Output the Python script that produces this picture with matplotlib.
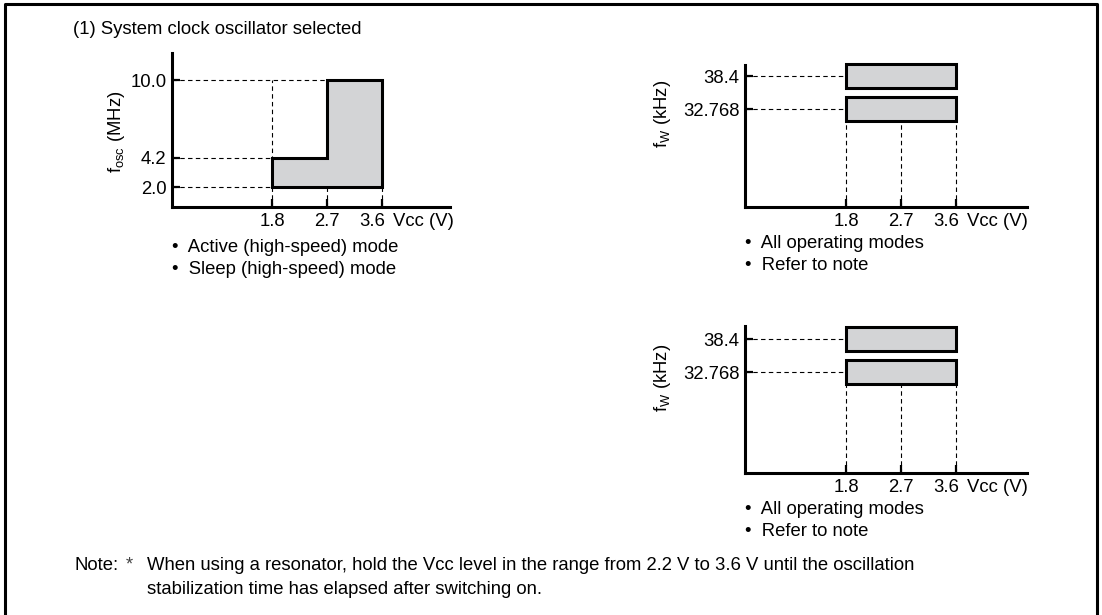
import numpy as np
import matplotlib
matplotlib.use('Agg')
import matplotlib.pyplot as plt
from matplotlib.lines import Line2D
from matplotlib.transforms import ScaledTranslation

plt.rcParams['font.family'] = ['Liberation Sans', 'DejaVu Sans']
plt.rcParams['font.size'] = 13.3
plt.rcParams['mathtext.fontset'] = 'custom'
plt.rcParams['mathtext.rm'] = 'Liberation Sans'

#%% data
vcc_edges = [1.8, 2.7, 3.6]          # operating voltage breakpoints (V)
vcc_labels = ['1.8', '2.7', '3.6']
fosc_min = 2.0                       # MHz
fosc_max = [4.2, 10.0]               # max fosc for 1.8-2.7 V and 2.7-3.6 V
fosc_ticks = [2.0, 4.2, 10.0]
fosc_labels = ['2.0', '4.2', '10.0']
fw_values = [38.4, 32.768]           # kHz
fw_labels = ['38.4', '32.768']

title = '(1) System clock oscillator selected'
sys_notes = ['Active (high-speed) mode', 'Sleep (high-speed) mode']
sub_notes = ['All operating modes', 'Refer to note']
note_lines = ['When using a resonator, hold the Vcc level in the range from 2.2 V to 3.6 V until the oscillation',
              'stabilization time has elapsed after switching on.']

#%% layout helpers (pixel based)
W, H = 1102, 615
fig = plt.figure(figsize=(W / 100, H / 100), dpi=100)
fig.patch.set_facecolor('white')

GRAY = '#d3d4d6'
LW = 2.2
DASH = dict(color='k', lw=0.8, ls=(0, (4, 3)))


def px_axes(l, t, r, b):
    return fig.add_axes([l / W, (H - b) / H, (r - l) / W, (b - t) / H])


def style(ax):
    for s in ['top', 'right']:
        ax.spines[s].set_visible(False)
    for s in ['left', 'bottom']:
        ax.spines[s].set_linewidth(LW)
    ax.tick_params(direction='in', length=5.5, width=1.6, pad=4, labelsize=13.3)
    ax.set_xticks(vcc_edges, vcc_labels)
    # last voltage label sits left of its tick, "Vcc (V)" follows it
    last = ax.get_xticklabels()[-1]
    last.set_transform(last.get_transform() + ScaledTranslation(-0.10, 0, fig.dpi_scale_trans))
    ax.patch.set_alpha(0)
    ax.annotate('Vcc (V)', xy=(vcc_edges[-1], 0), xycoords=('data', 'axes fraction'),
                xytext=(8, -4), textcoords='offset points', ha='left', va='top')


def bullets(ax, items, offs):
    for s, dy in zip(items, offs):
        ax.annotate('\u2022  ' + s, xy=(0, 0), xycoords='axes fraction',
                    xytext=(0, -dy), textcoords='offset pixels', ha='left', va='center')


#%% chart 1 : fosc vs Vcc
ax1 = px_axes(172, 53, 450, 207)
style(ax1)
ax1.set_xlim(0.164, 4.713)
ax1.set_ylim(0.505, 12.02)
ax1.set_yticks(fosc_ticks, fosc_labels)

xs = [vcc_edges[0], vcc_edges[2], vcc_edges[2], vcc_edges[1], vcc_edges[1], vcc_edges[0]]
ys = [fosc_min, fosc_min, fosc_max[1], fosc_max[1], fosc_max[0], fosc_max[0]]
x0, y0 = ax1.get_xlim()[0], ax1.get_ylim()[0]
ax1.hlines(fosc_max[1], x0, vcc_edges[1], **DASH)
ax1.hlines([fosc_max[0], fosc_min], x0, vcc_edges[0], **DASH)
ax1.vlines(vcc_edges[0], y0, fosc_max[1], **DASH)
ax1.vlines(vcc_edges[1:], y0, fosc_min, **DASH)
ax1.fill(xs, ys, facecolor=GRAY, edgecolor='k', lw=LW, joinstyle='miter', zorder=3)

ax1.set_ylabel('f$_{\\mathregular{osc}}$ (MHz)')
ax1.yaxis.set_label_coords(-0.162, 0.487)
bullets(ax1, sys_notes, [41, 63])


#%% charts 2, 3 : fW vs Vcc
def fw_chart(ax, ylim, label_y):
    style(ax)
    ax.set_xlim(0.147, 4.762)
    ax.set_ylim(*ylim)
    ax.set_yticks(fw_values, fw_labels)
    half = 2.13
    x0, y0 = ax.get_xlim()[0], ax.get_ylim()[0]
    ax.hlines(fw_values, x0, vcc_edges[0], **DASH)
    ax.vlines(vcc_edges, y0, min(fw_values) - half, **DASH)
    bars = ax.barh(fw_values, vcc_edges[-1] - vcc_edges[0], left=vcc_edges[0], height=2 * half,
                   color=GRAY, edgecolor='k', lw=LW, zorder=3)
    for b in bars:
        b.set_clip_on(False)
    ax.set_ylabel('f$_{\\mathregular{W}}$ (kHz)')
    ax.yaxis.set_label_coords(-0.255, label_y)
    bullets(ax, sub_notes, [37, 58])


ax2 = px_axes(745, 65, 1027, 207)
fw_chart(ax2, (16.04, 40.28), 0.655)
ax3 = px_axes(745, 326, 1027, 473)
fw_chart(ax3, (15.53, 40.62), 0.646)

#%% texts and frame
fig.text(73 / W, 1 - 30 / H, title, va='center', ha='left')
fig.text(74 / W, 1 - 565 / H, 'Note:', va='center', ha='left')
fig.text(126 / W, 1 - 565 / H, '*', va='center', ha='left', color='#444444')
fig.text(147 / W, 1 - 565 / H, note_lines[0], va='center', ha='left')
fig.text(147 / W, 1 - 589 / H, note_lines[1], va='center', ha='left')

fig.add_artist(Line2D([5 / W, 5 / W, 1097 / W, 1097 / W], [0, 1 - 4 / H, 1 - 4 / H, 0],
                      transform=fig.transFigure, color='k', lw=LW))

fig.savefig('out.png', dpi=100, facecolor='white')
